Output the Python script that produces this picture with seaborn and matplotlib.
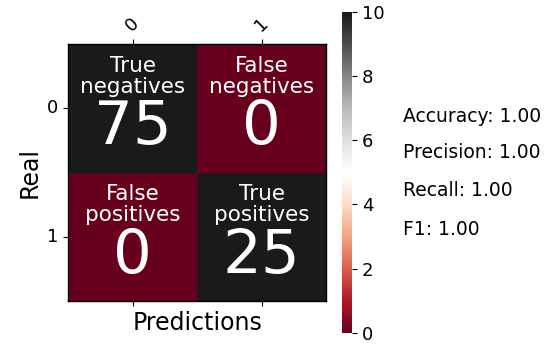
import numpy as np
import matplotlib
matplotlib.use("Agg")
import matplotlib.pyplot as plt
import seaborn as sns

conf = np.array([[75, 0],
                 [0, 25]])
cell_names = [["True\nnegatives", "False\nnegatives"],
              ["False\npositives", "True\npositives"]]
class_labels = ["0", "1"]
metric_names = ["Accuracy", "Precision", "Recall", "F1"]
metric_values = [1.00, 1.00, 1.00, 1.00]

fig = plt.figure(figsize=(5.5, 3.5), dpi=100)
ax = fig.add_axes([0.124, 0.14, 0.469, 0.734])
cax = fig.add_axes([0.622, 0.049, 0.018, 0.917])

sns.heatmap(conf, ax=ax, cbar_ax=cax, cmap="RdGy", vmin=0, vmax=10,
            square=False, xticklabels=class_labels, yticklabels=class_labels)

for i in range(conf.shape[0]):
    for j in range(conf.shape[1]):
        ax.text(j + 0.5, i + 0.25, cell_names[i][j], ha="center", va="center",
                color="white", fontsize=15.5, linespacing=1.05)
        ax.text(j + 0.5, i + 0.65, str(conf[i, j]), ha="center", va="center",
                color="white", fontsize=44)

ax.xaxis.set_ticks_position("both")
ax.tick_params(axis="x", labeltop=True, labelbottom=False, labelsize=13)
ax.tick_params(axis="y", labelsize=13)
plt.setp(ax.get_xticklabels(), rotation=45, ha="center")
plt.setp(ax.get_yticklabels(), rotation=0)
ax.set_xlabel("Predictions", fontsize=17)
ax.set_ylabel("Real", fontsize=17)
for s in ax.spines.values():
    s.set_visible(True)
    s.set_linewidth(1)

cax.tick_params(labelsize=13)
cax.set_yticks([0, 2, 4, 6, 8, 10])

ys = [0.666, 0.563, 0.457, 0.343]
for name, val, y in zip(metric_names, metric_values, ys):
    fig.text(0.733, y, f"{name}: {val:.2f}", fontsize=13.5, va="center", ha="left")

fig.savefig("out.png", dpi=100)
